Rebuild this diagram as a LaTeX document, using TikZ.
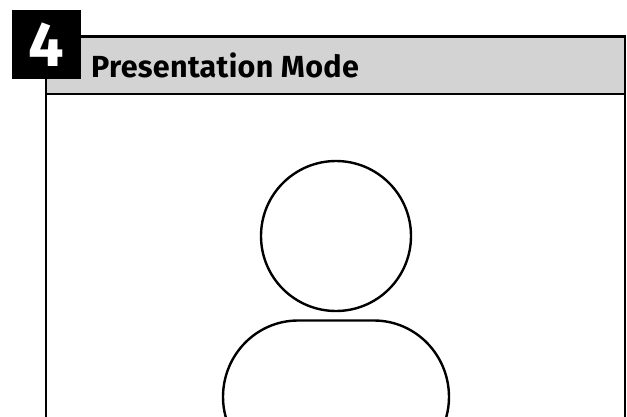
\documentclass[tikz,border=0pt]{standalone}
\usepackage{fontspec}
\setmainfont{Fira Sans}
\begin{document}
\begin{tikzpicture}[x=1pt,y=-1pt,
  frameline/.style={draw=black,line width=2.6pt},
  figline/.style={draw=black,line width=2.4pt},
  title/.style={font=\fontsize{30.5}{32}\selectfont\bfseries\addfontfeature{LetterSpace=1},text=black,inner sep=0pt,anchor=base west},
  badge/.style={fill=black,minimum size=69pt,inner sep=0pt},
  badgetext/.style={text=white,inner sep=0pt,anchor=base,font=\fontsize{63}{65}\selectfont\bfseries}]
\useasboundingbox (0,0) rectangle (627,416);
\begin{scope}
\clip (0,0) rectangle (627,416);
\fill[white] (0,0) rectangle (627,416);
\path[fill={rgb,255:red,211;green,211;blue,211},frameline] (46,36.5) rectangle (625,94);
\draw[frameline] (46,94) -- (46,420) (625,94) -- (625,420);
\node[circle,figline,minimum size=150pt,inner sep=0pt] (head) at (336,236) {};
\draw[figline] (298,320.5) -- (374,320.5) arc[start angle=-90,end angle=0,x radius=75,y radius=76.5]
  arc[start angle=0,end angle=60,radius=75];
\draw[figline] (298,320.5) arc[start angle=-90,end angle=-180,x radius=75,y radius=76.5]
  arc[start angle=-180,end angle=-240,radius=75];
\end{scope}
\node[badge] (num) at (46.5,44.5) {};
\node[badgetext] (numtext) at (46.5,66) {4};
\node[title] (ttl) at (91,77) {Presentation Mode};
\end{tikzpicture}
\end{document}
